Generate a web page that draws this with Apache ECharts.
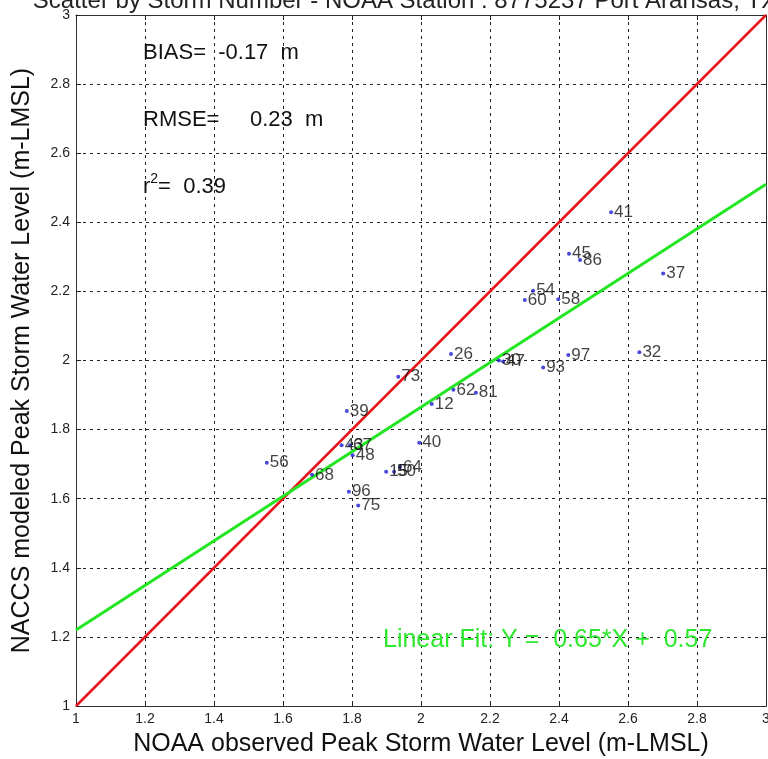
<!DOCTYPE html>
<html><head><meta charset="utf-8">
<script src="https://cdn.jsdelivr.net/npm/echarts@6/dist/echarts.min.js"></script>
<style>html,body{margin:0;padding:0;background:#fff;overflow:hidden}#c{width:768px;height:759px}</style>
</head><body><div id="c"></div>
<script>
// Storm numbers and values
const stormIds = ['41','45','86','37','54','60','58','30','47','93','97','32','73','26','62','81','12','39','43','67','48','40','15','50','64','96','75','56','68'];
const observed = [2.551,2.429,2.461,2.702,2.325,2.301,2.398,2.226,2.238,2.354,2.427,2.633,1.934,2.087,2.094,2.159,2.031,1.785,1.770,1.794,1.802,1.995,1.899,1.922,1.939,1.791,1.818,1.553,1.684];
const modeled  = [2.429,2.309,2.291,2.252,2.202,2.175,2.177,2.000,1.997,1.980,2.016,2.024,1.953,2.019,1.915,1.907,1.874,1.854,1.755,1.755,1.726,1.762,1.678,1.678,1.692,1.620,1.580,1.704,1.669];
const oneToOneX = [1, 3];
const oneToOneY = [1, 3];
const fitX = [1, 3];
const fitY = [1.22, 2.51];
const axisMin = 1, axisMax = 3, axisStep = 0.2;

const titleText = 'Scatter by Storm Number - NOAA Station : 8775237 Port Aransas, TX';
const biasText = 'BIAS=  -0.17  m';
const rmseText = 'RMSE=     0.23  m';
const r2Value = '=  0.39';
const fitText = 'Linear Fit: Y =  0.65*X +  0.57';

const FONT = '"Liberation Sans", Arial, sans-serif';
const chart = echarts.init(document.getElementById('c'), null, {renderer: 'canvas'});

const pts = observed.map((x, i) => [x, modeled[i], stormIds[i]]);
const pair = (xs, ys) => xs.map((x, i) => [x, ys[i]]);

const baseX = {
  type: 'value', min: axisMin, max: axisMax, interval: axisStep,
  axisLine: {show: true, onZero: false, lineStyle: {color: '#333', width: 1}},
  axisTick: {show: true, inside: true, length: 5, lineStyle: {color: '#222'}},
  splitLine: {show: false}
};

chart.setOption({
  animation: false,
  backgroundColor: '#fff',
  grid: {left: 76, top: 15, right: 2, bottom: 53, show: false, containLabel: false, outerBoundsMode: 'none'},
  title: {
    text: titleText, left: 400, textAlign: 'center', top: -16,
    textStyle: {fontFamily: FONT, fontSize: 24, fontWeight: 'normal', color: '#222'}
  },
  xAxis: [
    Object.assign({}, baseX, {
      position: 'bottom',
      name: 'NOAA observed Peak Storm Water Level (m-LMSL)',
      nameLocation: 'middle', nameGap: 26,
      nameTextStyle: {fontFamily: FONT, fontSize: 25, color: '#111'},
      axisLabel: {show: true, fontFamily: FONT, fontSize: 14, color: '#222', margin: 6},
      splitLine: {show: true, lineStyle: {color: '#222', type: [3, 4], width: 1}}
    }),
    Object.assign({}, baseX, {position: 'top', axisLabel: {show: false}})
  ],
  yAxis: [
    Object.assign({}, baseX, {
      position: 'left',
      name: 'NACCS modeled Peak Storm Water Level (m-LMSL)',
      nameLocation: 'middle', nameGap: 41,
      nameTextStyle: {fontFamily: FONT, fontSize: 25, color: '#111'},
      axisLabel: {show: true, fontFamily: FONT, fontSize: 14, color: '#222', margin: 6},
      splitLine: {show: true, lineStyle: {color: '#222', type: [3, 4], width: 1}}
    }),
    Object.assign({}, baseX, {position: 'right', axisLabel: {show: false}})
  ],
  series: [
    {
      type: 'line', data: pair(oneToOneX, oneToOneY), symbol: 'none',
      lineStyle: {color: '#e8141c', width: 2.5}, z: 3, silent: true
    },
    {
      type: 'line', data: pair(fitX, fitY), symbol: 'none',
      lineStyle: {color: '#22e622', width: 3}, z: 3, silent: true
    },
    {
      type: 'scatter', data: pts, symbol: 'circle', symbolSize: 4,
      itemStyle: {color: '#1a1ad0'}, z: 5,
      label: {
        show: true, position: 'right', distance: 1,
        formatter: p => p.data[2],
        fontFamily: FONT, fontSize: 17, color: '#111'
      }
    }
  ],
  graphic: [
    {type: 'text', left: 143, top: 42, z: 10, style: {text: biasText, font: '22px ' + FONT, fill: '#111'}},
    {type: 'text', left: 143, top: 109, z: 10, style: {text: rmseText, font: '22px ' + FONT, fill: '#111'}},
    {type: 'text', left: 143, top: 172, z: 10, style: {
      text: '{b|r}{s|2}{b|' + r2Value + '}',
      rich: {
        b: {fontFamily: FONT, fontSize: 22, fill: '#111', color: '#111', verticalAlign: 'bottom', lineHeight: 26},
        s: {fontFamily: FONT, fontSize: 14, fill: '#111', color: '#111', verticalAlign: 'top', lineHeight: 26}
      }
    }},
    {type: 'text', left: 383, top: 628, z: 10, style: {text: fitText, font: '25px ' + FONT, fill: '#2ee82e'}}
  ]
});
</script>
</body></html>
